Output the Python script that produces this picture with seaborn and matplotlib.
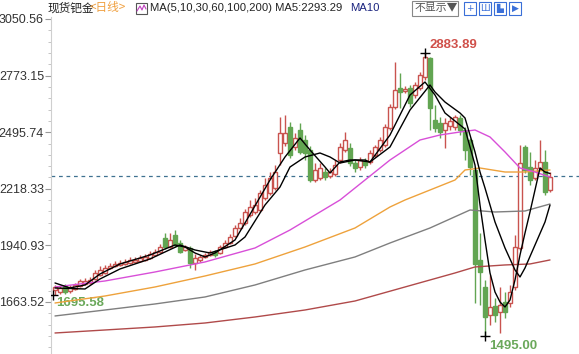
import numpy as np
import pandas as pd
import matplotlib
matplotlib.use("Agg")
import matplotlib.pyplot as plt
import seaborn as sns
from matplotlib.patches import Rectangle
from matplotlib.ticker import FixedLocator, AutoMinorLocator

# --- data ---
opens = [1722.4, 1712.5, 1742.0, 1717.4, 1727.3, 1742.0, 1751.8, 1756.7, 1776.3, 1795.9,
         1805.7, 1830.3, 1840.1, 1845.0, 1849.9, 1854.8, 1859.7, 1864.6, 1869.5, 1879.3,
         1893.9, 1908.6, 1977.2, 1933.1, 1991.9, 1952.7, 1918.4, 1928.2, 1854.8, 1869.5,
         1884.2, 1893.9, 1908.6, 1903.7, 1933.1, 1952.7, 1987.0, 2026.2, 2050.7, 2089.9,
         2104.6, 2114.4, 2173.2, 2197.7, 2222.2, 2393.8, 2442.8, 2521.2, 2423.2, 2506.5,
         2457.5, 2408.5, 2261.4, 2271.2, 2300.6, 2281.0, 2290.8, 2359.4, 2408.5, 2418.3,
         2344.7, 2325.1, 2354.5, 2349.6, 2384.0, 2408.5, 2433.0, 2516.3, 2619.2, 2712.3,
         2697.6, 2712.3, 2678.0, 2712.3, 2766.2, 2859.3, 2555.5, 2540.8, 2506.5, 2526.1,
         2521.2, 2565.3, 2506.5, 2457.5, 2310.4, 1869.5, 1737.1, 1599.8, 1643.9, 1614.5,
         1663.5, 1658.6, 1737.1, 1928.2, 2423.2, 2325.1, 2271.2, 2320.2, 2349.6, 2212.4]
highs = [1746.9, 1742.0, 1751.8, 1746.9, 1756.7, 1776.3, 1781.2, 1786.1, 1820.4, 1840.1,
         1845.0, 1854.8, 1864.6, 1869.5, 1874.4, 1884.2, 1884.2, 1893.9, 1898.8, 1913.5,
         1923.3, 1947.8, 2001.6, 2001.6, 2016.4, 1967.4, 1942.9, 1938.0, 1898.8, 1893.9,
         1903.7, 1918.4, 1918.4, 1942.9, 1967.4, 1996.8, 2040.9, 2075.2, 2119.3, 2163.4,
         2173.2, 2212.4, 2271.2, 2300.6, 2334.9, 2570.2, 2580.0, 2545.7, 2491.8, 2540.8,
         2482.0, 2428.1, 2344.7, 2344.7, 2320.2, 2320.2, 2359.4, 2442.8, 2496.7, 2442.8,
         2359.4, 2374.2, 2369.4, 2408.5, 2433.0, 2472.2, 2535.9, 2633.9, 2839.7, 2785.8,
         2722.1, 2727.0, 2741.7, 2790.7, 2883.89, 2864.2, 2629.0, 2570.2, 2565.3, 2570.2,
         2580.0, 2580.0, 2521.2, 2467.3, 2325.1, 2001.6, 1771.4, 1795.9, 1683.1, 1737.1,
         1712.5, 1746.9, 1991.9, 2433.0, 2433.0, 2398.7, 2359.4, 2457.5, 2408.5, 2300.6]
lows = [1695.58, 1702.7, 1702.7, 1707.6, 1722.4, 1737.1, 1746.9, 1751.8, 1771.4, 1791.0,
        1800.8, 1825.4, 1835.2, 1840.1, 1845.0, 1849.9, 1854.8, 1859.7, 1864.6, 1874.4,
        1889.1, 1903.7, 1923.3, 1928.2, 1933.1, 1903.7, 1913.5, 1830.3, 1820.4, 1859.7,
        1879.3, 1889.1, 1884.2, 1898.8, 1928.2, 1947.8, 1982.1, 2021.3, 2040.9, 2080.1,
        2094.8, 2104.6, 2163.4, 2187.9, 2212.4, 2334.9, 2428.1, 2369.4, 2408.5, 2388.9,
        2359.4, 2251.6, 2251.6, 2261.4, 2261.4, 2271.2, 2281.0, 2344.7, 2398.7, 2330.0,
        2300.6, 2310.4, 2320.2, 2339.8, 2374.2, 2398.7, 2423.2, 2506.5, 2609.4, 2614.3,
        2687.8, 2619.2, 2663.3, 2702.5, 2751.5, 2506.5, 2496.7, 2467.3, 2418.3, 2506.5,
        2506.5, 2482.0, 2359.4, 2285.9, 1658.6, 1648.8, 1495.00, 1550.8, 1565.5, 1511.6,
        1585.1, 1639.0, 1722.4, 1918.4, 2295.7, 2236.9, 2261.4, 2310.4, 2187.9, 2202.6]
closes = [1737.1, 1732.2, 1712.5, 1737.1, 1746.9, 1766.5, 1766.5, 1771.4, 1805.7, 1820.4,
          1830.3, 1840.1, 1849.9, 1854.8, 1859.7, 1869.5, 1869.5, 1879.3, 1884.2, 1898.8,
          1908.6, 1933.1, 1933.1, 1967.4, 1942.9, 1908.6, 1933.1, 1854.8, 1879.3, 1884.2,
          1893.9, 1908.6, 1893.9, 1933.1, 1952.7, 1982.1, 2026.2, 2050.7, 2104.6, 2129.1,
          2138.9, 2197.7, 2236.9, 2271.2, 2300.6, 2491.8, 2491.8, 2384.0, 2467.3, 2398.7,
          2393.8, 2261.4, 2310.4, 2320.2, 2276.1, 2300.6, 2334.9, 2423.2, 2457.5, 2344.7,
          2320.2, 2359.4, 2334.9, 2393.8, 2423.2, 2457.5, 2521.2, 2619.2, 2702.5, 2692.7,
          2707.4, 2638.8, 2727.0, 2776.0, 2864.2, 2614.3, 2516.3, 2496.7, 2540.8, 2550.6,
          2570.2, 2506.5, 2408.5, 2325.1, 1849.9, 1810.6, 1590.0, 1639.0, 1599.8, 1648.8,
          1614.5, 1712.5, 1933.1, 2344.7, 2310.4, 2261.4, 2320.2, 2349.6, 2202.6, 2276.1]

ma5_idx = [0, 3, 6, 9, 13, 19, 24, 26, 28, 30, 32, 36, 38, 43, 46, 49, 51, 54, 55, 57,
           59, 62, 63, 67, 71, 74, 76, 78, 81, 82, 84, 85, 86, 87, 88, 89, 90, 91, 92, 93,
           94, 95, 96, 97, 98, 99]
ma5_val = [1756.7, 1732.2, 1746.9, 1800.8, 1849.9, 1893.9, 1942.9, 1933.1, 1903.7, 1884.2,
           1903.7, 1967.4, 2050.7, 2261.4, 2374.2, 2467.3, 2408.5, 2325.1, 2295.7, 2349.6,
           2359.4, 2359.4, 2349.6, 2482.0, 2678.0, 2741.7, 2678.0, 2589.8, 2531.0, 2511.4,
           2334.9, 2138.9, 1967.4, 1805.7, 1712.5, 1663.5, 1639.0, 1673.3, 1771.4, 1893.9,
           2001.6, 2104.6, 2212.4, 2320.2, 2300.6, 2293.29]
ma10_idx = [0, 6, 9, 13, 19, 25, 28, 31, 36, 38, 42, 45, 47, 50, 53, 55, 57, 60, 63, 67,
            71, 75, 76, 78, 81, 82, 83, 84, 85, 86, 88, 90, 92, 93, 94, 96, 98, 99]
ma10_val = [1732.2, 1727.3, 1776.3, 1825.4, 1874.4, 1942.9, 1918.4, 1903.7, 1942.9, 1982.1,
            2138.9, 2227.1, 2325.1, 2374.2, 2393.8, 2374.2, 2344.7, 2359.4, 2349.6, 2423.2,
            2604.5, 2727.0, 2692.7, 2643.5, 2589.8, 2565.3, 2482.0, 2398.7, 2300.6, 2222.2,
            2055.6, 1928.2, 1820.4, 1786.1, 1830.3, 1942.9, 2055.6, 2138.9]
ma30_idx = [0, 10, 20, 30, 40, 47, 57, 67, 73, 77, 81, 84, 87, 90, 93, 96, 99]
ma30_val = [1737.1, 1766.5, 1810.6, 1859.7, 1928.2, 2016.4, 2163.4, 2359.4, 2457.5, 2482.0,
            2496.7, 2506.5, 2472.2, 2398.7, 2320.2, 2300.6, 2276.1]
ma60_idx = [0, 10, 20, 30, 40, 50, 60, 67, 70, 75, 80, 82, 85, 90, 94, 99]
ma60_val = [1658.6, 1692.9, 1737.1, 1791.0, 1849.9, 1933.1, 2026.2, 2129.1, 2163.4, 2212.4,
            2261.4, 2310.4, 2320.2, 2300.6, 2300.6, 2310.4]
ma100_idx = [0, 10, 20, 30, 40, 50, 60, 67, 75, 83, 88, 94, 99]
ma100_val = [1595.0, 1624.3, 1653.8, 1688.1, 1746.9, 1820.4, 1884.2, 1952.7, 2026.2, 2114.4,
             2104.6, 2109.5, 2143.8]
ma200_idx = [0, 10, 20, 30, 40, 50, 60, 70, 80, 84, 90, 95, 99]
ma200_val = [1511.6, 1526.3, 1541.1, 1560.6, 1590.0, 1624.3, 1668.4, 1737.1, 1805.7, 1835.2,
             1845.0, 1849.9, 1869.5]

y_ticks = [1663.52, 1940.93, 2218.33, 2495.74, 2773.15, 3050.56]
last_price = 2281.0

RED = "#c9534f"
GREEN = "#62a552"

sns.set_style("white")
plt.rcParams['font.family'] = ['Liberation Sans', 'Noto Sans CJK SC', 'DejaVu Sans']

W, H = 579, 354
fig = plt.figure(figsize=(W / 100, H / 100), dpi=100)
ax = fig.add_axes([51 / W, 0, (W - 51) / W, (H - 17) / H])

df = pd.DataFrame({"open": opens, "high": highs, "low": lows, "close": closes})
df["i"] = np.arange(len(df))
up = df["close"] >= df["open"]

# wicks
for is_up, col in [(True, RED), (False, GREEN)]:
    d = df[up == is_up]
    ax.vlines(d["i"], d["low"], d["high"], color=col, lw=1, zorder=2)
# bodies
d = df[up]
ax.bar(d["i"], d["close"] - d["open"], bottom=d["open"], width=0.75,
       facecolor="white", edgecolor=RED, lw=1, zorder=3)
d = df[~up]
ax.bar(d["i"], d["open"] - d["close"], bottom=d["close"], width=0.75,
       facecolor=GREEN, edgecolor=GREEN, lw=1, zorder=3)

# moving averages
for idx, val, col in [(ma200_idx, ma200_val, "#b04a4a"), (ma100_idx, ma100_val, "#7f7f7f"),
                      (ma60_idx, ma60_val, "#eea23c"), (ma30_idx, ma30_val, "#d84fd8"),
                      (ma10_idx, ma10_val, "black"), (ma5_idx, ma5_val, "black")]:
    sns.lineplot(x=idx, y=val, ax=ax, color=col, lw=1, zorder=4)

ax.axhline(last_price, color="#3f7190", lw=0.9, ls=(0, (3, 3)), zorder=1)

# high / low markers
hi = int(np.argmax(highs))
lo = int(np.argmin(lows))
ax.plot([hi], [highs[hi]], marker="+", color="black", ms=7, mew=1, zorder=5)
ax.plot([lo], [lows[lo]], marker="+", color="black", ms=7, mew=1, zorder=5)
ax.plot([-0.4], [lows[0]], marker="+", color="black", ms=7, mew=1, zorder=5)
ax.text(hi + 1, highs[hi] + 10, f"{highs[hi]:.2f}", color="#d0504a", fontsize=9.5,
        fontweight="bold", ha="left", va="bottom")
ax.text(lo + 0.8, lows[lo] - 20, f"{lows[lo]:.2f}", color="#6aa85a", fontsize=9.5,
        fontweight="bold", ha="left", va="top")
ax.text(0.2, lows[0] - 8, f"{lows[0]:.2f}", color="#6aa85a", fontsize=9.5,
        fontweight="bold", ha="left", va="top")

ax.set_xlim(-0.8, 104.8)
ax.set_ylim(1408.6, 3060.3)
ax.yaxis.set_major_locator(FixedLocator(y_ticks))
ax.yaxis.set_minor_locator(AutoMinorLocator(5))
ax.set_yticklabels([f"{t:.2f}" for t in y_ticks])
ax.tick_params(axis="y", which="major", direction="out", length=4, width=0.8,
               color="#999999", labelsize=9, labelcolor="#333333", pad=1, left=True)
ax.tick_params(axis="y", which="minor", direction="out", length=2, width=0.6,
               color="#bbbbbb", left=True)
ax.set_xticks([])
for s in ["top", "right", "bottom"]:
    ax.spines[s].set_visible(False)
ax.spines["left"].set_color("#cfcfcf")
ax.spines["left"].set_linewidth(0.8)


# header
def fx(x):
    return x / W


def fy(y):
    return 1 - y / H


cjk = ['Noto Sans CJK SC', 'DejaVu Sans']
fig.text(fx(47), fy(8), "现货钯金", family=cjk, fontsize=8.4, color="#222222", va="center")
fig.text(fx(90), fy(8), "<日线>", family=cjk, fontsize=8.4, color="#f0a040", va="center")
fig.patches.append(Rectangle((fx(136), fy(14)), 11 / W, 11 / H, transform=fig.transFigure,
                             fill=False, edgecolor="#555555", lw=0.8))
fig.lines.append(plt.Line2D([fx(137), fx(140), fx(142), fx(144), fx(146)],
                            [fy(11), fy(6), fy(10), fy(5), fy(9)],
                            transform=fig.transFigure, color="#c040c0", lw=0.8))
fig.text(fx(150), fy(8), "MA(5,10,30,60,100,200) MA5:2293.29", fontsize=8.1,
         color="#222222", va="center")
fig.text(fx(350), fy(8), "MA10", fontsize=8.1, color="#1a237e", va="center")
fig.patches.append(Rectangle((fx(412), fy(16)), 46 / W, 15 / H, transform=fig.transFigure,
                             fill=False, edgecolor="#888888", lw=0.8))
fig.text(fx(415), fy(8), "不显示▼", family=cjk, fontsize=7.8, color="#555555", va="center")
for k, g in enumerate(["+", "Ш", "▙", "▶"]):
    x0 = 464 + k * 15
    fig.patches.append(Rectangle((fx(x0), fy(15)), 12 / W, 13 / H, transform=fig.transFigure,
                                 fill=False, edgecolor="#3a6fd8", lw=0.8))
    fig.text(fx(x0 + 6), fy(8.5), g, family=['DejaVu Sans'], fontsize=6.5, color="#3a6fd8",
             ha="center", va="center")

fig.savefig("out.png", dpi=100)
